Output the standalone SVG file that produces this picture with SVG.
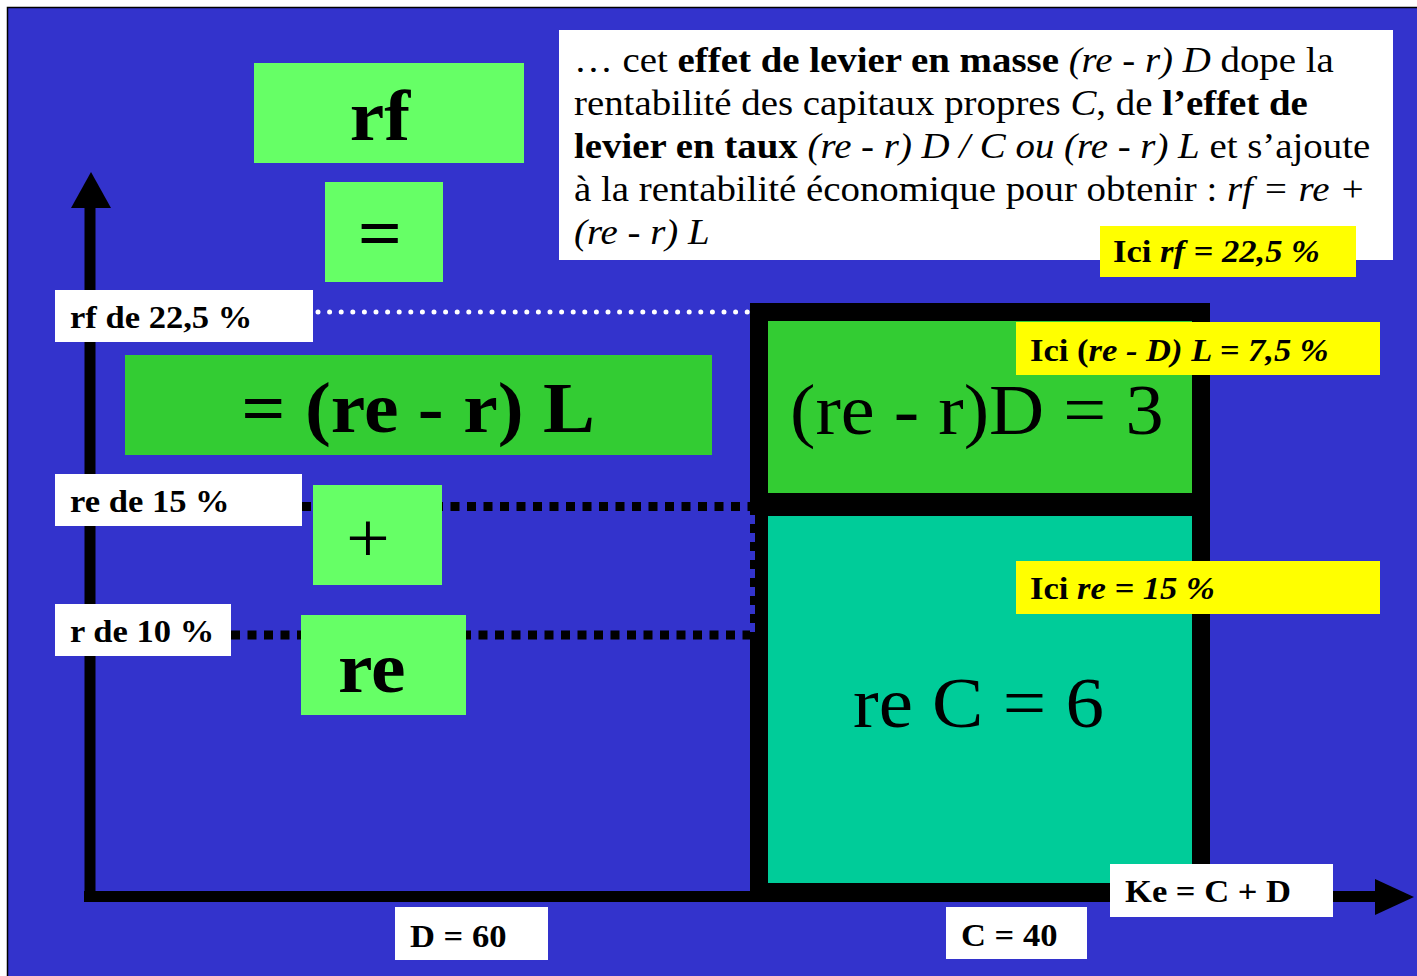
<svg xmlns="http://www.w3.org/2000/svg" width="1417" height="976" viewBox="0 0 1417 976">
<style>
text { font-family: "Liberation Serif", "Times New Roman", serif; fill: #000; }
.b { font-weight: bold; }
.i { font-style: italic; }
.lbl { font-size: 32px; font-weight: bold; }
.big { font-size: 72px; }
.par { font-size: 36px; }
.lg { fill: #66FF66; }
.mg { fill: #33CC33; }
.wh { fill: #FFFFFF; }
.yl { fill: #FFFF00; }
.wdot { fill: none; stroke: #FFFFFF; stroke-width: 5; stroke-linecap: round; stroke-dasharray: 0 11.6; }
.bdot { fill: none; stroke: #000; stroke-width: 9; stroke-dasharray: 9 7.5; }
.vdot { fill: none; stroke: #000; stroke-width: 5; stroke-dasharray: 9 9; }
.axis { fill: none; stroke: #000; stroke-width: 11; }
</style>
<rect id="background" x="7.5" y="7.5" width="1420" height="980" fill="#3333CC" stroke="#000" stroke-width="1.5"/>

<g id="connectors">
  <path class="wdot" d="M318 312 H748"/>
  <path class="bdot" d="M302 506.5 H750"/>
  <path class="bdot" d="M231 635 H750"/>
  <path class="axis" d="M90 205 V901"/>
  <polygon points="91,172 111,208 71,208" fill="#000"/>
  <path class="axis" d="M84 896.5 H1380"/>
  <polygon points="1375,879 1414,897 1375,915" fill="#000"/>
</g>

<g id="box-debt">
  <rect x="759" y="312" width="442" height="190" fill="#33CC33" stroke="#000" stroke-width="18"/>
  <text class="big" transform="translate(790 434) scale(1.06 1)">(re - r)D = 3</text>
</g>
<g id="box-equity">
  <path fill="#000" fill-rule="evenodd" d="M750 498 H1210 V902 H750 V634 H755 V506 H750 Z M768 516 H1192 V883 H768 Z"/>
  <rect x="768" y="516" width="424" height="367" fill="#00CC99"/>
  <path class="vdot" d="M752.5 506 V634"/>
  <text class="big" transform="translate(853 727) scale(1.07 1)">re C = 6</text>
</g>

<g id="node-rf">
  <rect class="lg" x="254" y="63" width="270" height="100"/>
  <text class="big b" text-anchor="middle" transform="translate(380 140) scale(1.08 1)">rf</text>
</g>
<g id="node-eq">
  <rect class="lg" x="325" y="182" width="118" height="100"/>
  <text class="big b" text-anchor="middle" transform="translate(380 257) scale(1.08 1)">=</text>
</g>
<g id="node-rerL">
  <rect class="mg" x="125" y="355" width="587" height="100"/>
  <text class="big b" text-anchor="middle" transform="translate(418 432) scale(1.08 1)">= (re - r) L</text>
</g>
<g id="node-plus">
  <rect class="lg" x="313" y="485" width="129" height="100"/>
  <text class="big" text-anchor="middle" transform="translate(368 562) scale(1.08 1)">+</text>
</g>
<g id="node-re">
  <rect class="lg" x="301" y="615" width="165" height="100"/>
  <text class="big b" transform="translate(338 692) scale(1.08 1)">re</text>
</g>

<g id="label-rf">
  <rect class="wh" x="55" y="290" width="258" height="52"/>
  <text class="lbl" transform="translate(70 328) scale(1.08 1)">rf de 22,5 %</text>
</g>
<g id="label-re">
  <rect class="wh" x="55" y="474" width="247" height="52"/>
  <text class="lbl" transform="translate(70 512) scale(1.08 1)">re de 15 %</text>
</g>
<g id="label-r">
  <rect class="wh" x="55" y="604" width="176" height="52"/>
  <text class="lbl" transform="translate(70 642) scale(1.08 1)">r de 10 %</text>
</g>
<g id="label-D">
  <rect class="wh" x="395" y="907" width="153" height="53"/>
  <text class="lbl" transform="translate(410 947) scale(1.08 1)">D = 60</text>
</g>
<g id="label-C">
  <rect class="wh" x="946" y="907" width="141" height="52"/>
  <text class="lbl" transform="translate(961 946) scale(1.08 1)">C = 40</text>
</g>
<g id="label-Ke">
  <rect class="wh" x="1110" y="864" width="223" height="53"/>
  <text class="lbl" transform="translate(1125 902) scale(1.08 1)">Ke = C + D</text>
</g>

<g id="text-explanation">
  <rect class="wh" x="559" y="30" width="834" height="230"/>
  <text class="par" transform="translate(574 72) scale(1.08 1)">… cet <tspan class="b">effet de levier en masse</tspan><tspan class="i"> (re - r) D</tspan> dope la</text>
  <text class="par" transform="translate(574 115) scale(1.08 1)">rentabilité des capitaux propres <tspan class="i">C</tspan>, de <tspan class="b">l’effet de</tspan></text>
  <text class="par" transform="translate(574 158) scale(1.08 1)"><tspan class="b">levier en taux</tspan><tspan class="i"> (re - r) D / C ou (re - r) L</tspan> et s’ajoute</text>
  <text class="par" transform="translate(574 201) scale(1.08 1)">à la rentabilité économique pour obtenir : <tspan class="i">rf = re +</tspan></text>
  <text class="par i" transform="translate(574 244) scale(1.08 1)">(re - r) L</text>
</g>

<g id="note-rf">
  <rect class="yl" x="1100" y="226" width="256" height="51"/>
  <text class="lbl" transform="translate(1113 262) scale(1.08 1)">Ici <tspan class="i">rf = 22,5 %</tspan></text>
</g>
<g id="note-lever">
  <rect class="yl" x="1016" y="322" width="364" height="53"/>
  <text class="lbl" transform="translate(1030 361) scale(1.08 1)">Ici (<tspan class="i">re - D) L = 7,5 %</tspan></text>
</g>
<g id="note-re">
  <rect class="yl" x="1016" y="561" width="364" height="53"/>
  <text class="lbl" transform="translate(1030 599) scale(1.08 1)">Ici <tspan class="i">re = 15 %</tspan></text>
</g>
</svg>
